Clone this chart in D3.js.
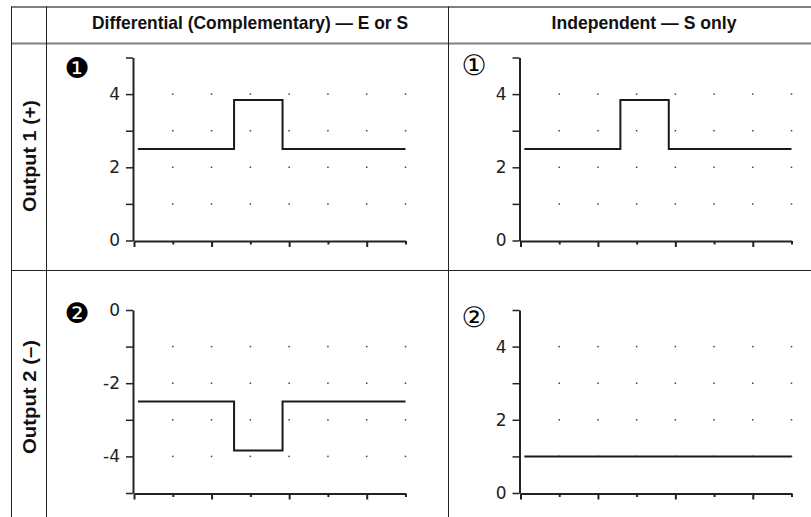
<!DOCTYPE html>
<html>
<head>
<meta charset="utf-8">
<script src="https://cdn.jsdelivr.net/npm/d3@7/dist/d3.min.js"></script>
<style>
  html, body { margin: 0; padding: 0; background: #fff; }
  svg { display: block; }
</style>
</head>
<body>
<svg id="chart" width="811" height="517"></svg>
<script>
// ---------------- data ----------------
const columnTitles = ["Differential (Complementary) \u2014 E or S", "Independent \u2014 S only"];
const rowTitles = ["Output 1 (+)", "Output 2 (\u2013)"];
const badges = [["\u2776", "\u2460"], ["\u2777", "\u2461"]];
const stepTimes = [0.1, 2.58, 3.83, 7];
const out1Differential = [2.5, 3.84, 2.5, 2.5];
const out1Independent = [2.5, 3.84, 2.5, 2.5];
const out2Differential = [-2.5, -3.84, -2.5, -2.5];
const out2Independent = [1, 1, 1, 1];
const xTicks = [0, 1, 2, 3, 4, 5, 6, 7];
const yTicksPos = [0, 1, 2, 3, 4, 5];
const yTicksNeg = [-5, -4, -3, -2, -1, 0];
const gridXPos = [1, 2, 3, 4, 5, 6, 7];
const gridYPos = [1, 2, 3, 4];
const gridYNeg = [-1, -2, -3, -4];

// ---------------- layout ----------------
const svg = d3.select("#chart");
const ink = "#222";

const colX = [[134, 405.5], [520.5, 791.5]];
const rowY = [[240.5, 57.5], [493, 310]];

const panels = [
  { r: 0, c: 0, values: out1Differential, yDomain: [0, 5], yTicks: yTicksPos, gridY: gridYPos },
  { r: 0, c: 1, values: out1Independent, yDomain: [0, 5], yTicks: yTicksPos, gridY: gridYPos },
  { r: 1, c: 0, values: out2Differential, yDomain: [-5, 0], yTicks: yTicksNeg, gridY: gridYNeg },
  { r: 1, c: 1, values: out2Independent, yDomain: [0, 5], yTicks: yTicksPos, gridY: gridYPos }
];

// ---------------- table frame ----------------
const frame = svg.append("g");
frame.append("line").attr("x1", 11).attr("x2", 811).attr("y1", 7).attr("y2", 7)
  .attr("stroke", "#555").attr("stroke-width", 1.5);
frame.append("line").attr("x1", 11).attr("x2", 811).attr("y1", 43.5).attr("y2", 43.5)
  .attr("stroke", "#808080").attr("stroke-width", 2);
frame.append("line").attr("x1", 11).attr("x2", 811).attr("y1", 270.5).attr("y2", 270.5)
  .attr("stroke", "#222").attr("stroke-width", 1);
[11.5, 46.5, 448.5].forEach(x => {
  frame.append("line").attr("x1", x).attr("x2", x).attr("y1", 6.5).attr("y2", 517)
    .attr("stroke", "#222").attr("stroke-width", 1);
});

// headers
const headerX = [250, 644];
const headerLen = [316, 185];
columnTitles.forEach((t, i) => {
  svg.append("text")
    .attr("x", headerX[i]).attr("y", 28.5)
    .attr("text-anchor", "middle")
    .attr("font-family", "'Liberation Sans', Arial, sans-serif")
    .attr("font-weight", "bold")
    .attr("font-size", 19)
    .attr("textLength", headerLen[i])
    .attr("lengthAdjust", "spacingAndGlyphs")
    .attr("fill", "#111")
    .text(t);
});

// row titles
const rowCenter = [156, 397];
const rowLen = [112, 114];
rowTitles.forEach((t, i) => {
  svg.append("text")
    .attr("transform", `translate(36,${rowCenter[i]}) rotate(-90)`)
    .attr("text-anchor", "middle")
    .attr("font-family", "'Liberation Sans', Arial, sans-serif")
    .attr("font-weight", "bold")
    .attr("font-size", 19)
    .attr("textLength", rowLen[i])
    .attr("lengthAdjust", "spacingAndGlyphs")
    .attr("fill", "#111")
    .text(t);
});

// ---------------- panels ----------------
const badgePos = [[[77, 68], [474, 65]], [[77, 313], [474, 317]]];

panels.forEach(p => {
  const x = d3.scaleLinear().domain([0, 7]).range(colX[p.c]);
  const y = d3.scaleLinear().domain(p.yDomain).range(rowY[p.r]);
  const g = svg.append("g");

  // grid dots
  p.gridY.forEach(gy => {
    gridXPos.forEach(gx => {
      g.append("rect")
        .attr("x", x(gx) - 0.75).attr("y", y(gy) - 0.75)
        .attr("width", 1.5).attr("height", 1.5)
        .attr("fill", "#444");
    });
  });

  // y axis
  const yAxis = d3.axisLeft(y)
    .tickValues(p.yTicks)
    .tickSize(7)
    .tickSizeOuter(0)
    .tickPadding(6)
    .tickFormat(d => (d % 2 === 0 && Math.abs(d) !== 5) ? String(d) : "");
  const ya = g.append("g").attr("transform", `translate(${colX[p.c][0] - 1},0)`).call(yAxis);
  ya.attr("font-size", 17).attr("font-family", "'DejaVu Sans', sans-serif");
  ya.select(".domain").attr("stroke", ink).attr("stroke-width", 2);
  ya.selectAll(".tick line").attr("stroke", ink).attr("stroke-width", 1.5);
  ya.selectAll(".tick text")
    .style("font-size", "17px")
    .style("font-family", "'DejaVu Sans', sans-serif")
    .attr("fill", "#222");

  // x axis
  const xAxis = d3.axisBottom(x)
    .tickValues(xTicks)
    .tickSize(6)
    .tickSizeOuter(0)
    .tickFormat("");
  const xa = g.append("g").attr("transform", `translate(0,${rowY[p.r][0] + 0.5})`).call(xAxis);
  xa.select(".domain").attr("stroke", ink).attr("stroke-width", 2);
  xa.selectAll(".tick line")
    .attr("stroke", ink).attr("stroke-width", 2)
    .attr("y2", d => (d % 2 === 0 ? 6 : 3.5));

  // step line
  const pts = stepTimes.map((t, i) => [t, p.values[i]]);
  const line = d3.line()
    .x(d => x(d[0]))
    .y(d => y(d[1]))
    .curve(d3.curveStepAfter);
  g.append("path")
    .attr("d", line(pts))
    .attr("fill", "none")
    .attr("stroke", "#1a1a1a")
    .attr("stroke-width", 2);

  // badge
  const bp = badgePos[p.r][p.c];
  g.append("text")
    .attr("x", bp[0]).attr("y", bp[1])
    .attr("text-anchor", "middle")
    .attr("dominant-baseline", "central")
    .attr("font-family", "'DejaVu Sans', sans-serif")
    .attr("font-size", 28)
    .attr("fill", "#000")
    .text(badges[p.r][p.c]);
});
</script>
</body>
</html>
